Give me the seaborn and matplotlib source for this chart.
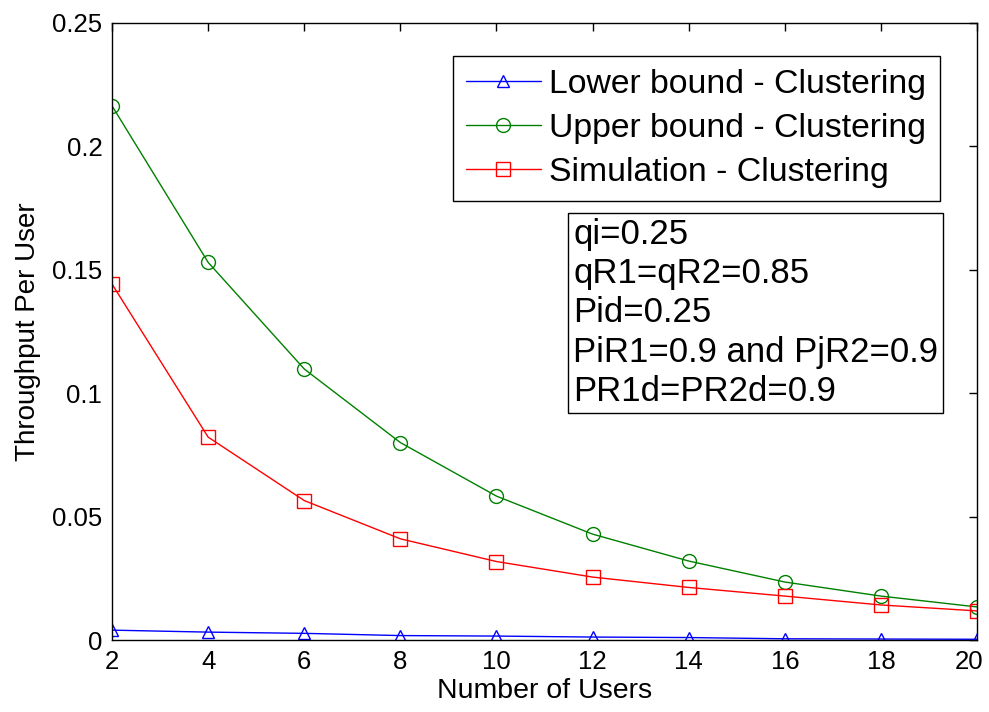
import matplotlib
matplotlib.use("Agg")
import matplotlib.pyplot as plt
import matplotlib.transforms as mtransforms
import seaborn as sns
import pandas as pd

users = [2, 4, 6, 8, 10, 12, 14, 16, 18, 20]
lower_bound = [0.0040, 0.0032, 0.0027, 0.0018, 0.0016, 0.0012, 0.0010, 0.0005, 0.0004, 0.0003]
upper_bound = [0.2164, 0.1530, 0.1098, 0.0800, 0.0583, 0.0429, 0.0320, 0.0235, 0.0178, 0.0134]
simulation = [0.1442, 0.0822, 0.0565, 0.0410, 0.0318, 0.0255, 0.0213, 0.0178, 0.0142, 0.0118]
series_names = ["Lower bound - Clustering", "Upper bound - Clustering", "Simulation - Clustering"]
x_ticks = [2, 4, 6, 8, 10, 12, 14, 16, 18, 20]
y_ticks = [0, 0.05, 0.1, 0.15, 0.2, 0.25]
y_tick_labels = ["0", "0.05", "0.1", "0.15", "0.2", "0.25"]
param_lines = ["qi=0.25", "qR1=qR2=0.85", "Pid=0.25", "PiR1=0.9 and PjR2=0.9", "PR1d=PR2d=0.9"]

sns.set_theme(style="white")
plt.rcParams['font.family'] = ['Liberation Sans', 'DejaVu Sans']
plt.rcParams['text.color'] = 'black'
plt.rcParams['axes.labelcolor'] = 'black'

fig = plt.figure(figsize=(9.89, 7.12), dpi=100)
ax = fig.add_axes([0.1133, 0.1011, 0.8746, 0.8666])

colors = ["#0000ff", "#008000", "#ff0000"]
markers = ["^", "o", "s"]
msizes = [9, 10, 10]
for vals, name, c, m, ms in zip([lower_bound, upper_bound, simulation], series_names, colors, markers, msizes):
    df = pd.DataFrame({"users": users, "val": vals})
    sns.lineplot(data=df, x="users", y="val", ax=ax, color=c, marker=m, markersize=ms,
                 markerfacecolor="none", markeredgecolor=c, markeredgewidth=1.0,
                 linewidth=1.0, label=name)

ax.set_xlim(2, 20)
ax.set_ylim(0, 0.25)
ax.set_xticks(x_ticks)
ax.set_xticklabels([str(t) for t in x_ticks])
ax.set_yticks(y_ticks)
ax.set_yticklabels(y_tick_labels)
ax.tick_params(direction="in", length=6, width=1, top=True, right=True,
               labelsize=18.5, colors="black", pad=7)
for s in ax.spines.values():
    s.set_color("black")
    s.set_linewidth(1.0)

# keep the last x tick label inside the figure
last = ax.get_xticklabels()[-1]
last.set_transform(last.get_transform() + mtransforms.ScaledTranslation(-8 / 100, 0, fig.dpi_scale_trans))

ax.set_xlabel("Number of Users", fontsize=20.5, labelpad=3, color="black")
ax.set_ylabel("Throughput Per User", fontsize=20, labelpad=8, color="black")

leg = ax.legend(loc="upper left", bbox_to_anchor=(0.394, 0.947), fontsize=24.3,
                frameon=True, fancybox=False, edgecolor="black", framealpha=1,
                borderpad=0.4, labelspacing=0.38, handlelength=2.2, handletextpad=0.25,
                borderaxespad=0)
leg.get_frame().set_linewidth(1.0)
for t in leg.get_texts():
    t.set_color("black")

ax.text(0.533, 0.684, "\n".join(param_lines), transform=ax.transAxes, fontsize=25,
        va="top", ha="left", linespacing=1.24, color="black",
        bbox=dict(boxstyle="square,pad=0.15", facecolor="white", edgecolor="black", linewidth=1.0))

fig.savefig("out.png", dpi=100)
